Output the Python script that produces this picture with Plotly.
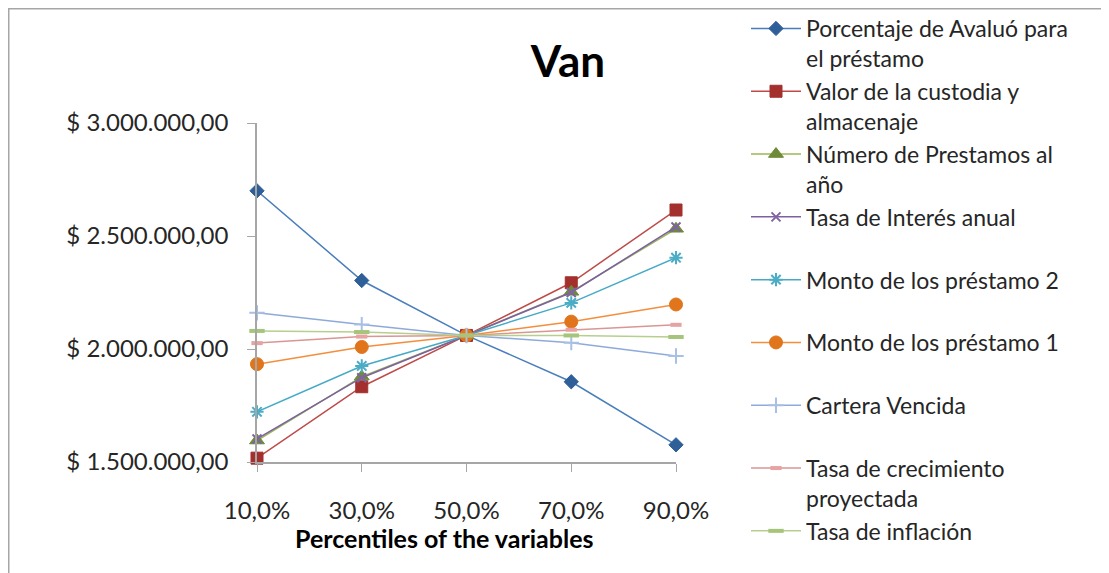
import plotly.graph_objects as go

categories = ["10,0%", "30,0%", "50,0%", "70,0%", "90,0%"]

series_names = [
    "Porcentaje de Avaluó para<br>el préstamo",
    "Valor de la custodia y<br>almacenaje",
    "Número de Prestamos al<br>año",
    "Tasa de Interés anual<br> ",
    "Monto de los préstamo 2<br> ",
    "Monto de los préstamo 1<br> ",
    "Cartera Vencida<br> ",
    "Tasa de crecimiento<br>proyectada",
    "Tasa de inflación",
]

porcentaje_avaluo = [2700000, 2303000, 2060000, 1855000, 1576000]
valor_custodia = [1517000, 1833000, 2060000, 2293000, 2615000]
numero_prestamos = [1595000, 1878000, 2060000, 2253000, 2532000]
tasa_interes = [1602000, 1873000, 2060000, 2250000, 2540000]
monto_prestamo_2 = [1722000, 1925000, 2060000, 2204000, 2404000]
monto_prestamo_1 = [1933000, 2009000, 2060000, 2121000, 2197000]
cartera_vencida = [2160000, 2108000, 2060000, 2028000, 1969000]
tasa_crecimiento = [2026000, 2055000, 2060000, 2085000, 2107000]
tasa_inflacion = [2080000, 2075000, 2060000, 2060000, 2053000]

values = [porcentaje_avaluo, valor_custodia, numero_prestamos, tasa_interes,
          monto_prestamo_2, monto_prestamo_1, cartera_vencida, tasa_crecimiento,
          tasa_inflacion]

line_colors = ["#4A7EBB", "#BE4B48", "#98B954", "#7D60A0", "#46AAC5",
               "#F38E3C", "#8EAADB", "#D99694", "#B7CF8E"]
marker_colors = ["#2F5F98", "#A3302D", "#6E8B37", "#8064A2", "#4BACC6",
                 "#E0751B", "#A9C0E5", "#E6A3A1", "#A6C57A"]
symbols = ["diamond", "square", "triangle-up", "x-thin", "asterisk",
           "circle", "cross-thin", "line-ew", "line-ew"]
sizes = [11, 12, 13, 9, 11, 13, 11, 8, 11]

# page offset (body margin) compensation: figure pixel = screen pixel - 8
L, T, W, H = 249, 115, 419, 339


def px_x(px):
    return (px - L) / W


def px_y(py):
    return (T + H - py) / H


fig = go.Figure()
for i, (name, vals) in enumerate(zip(series_names, values)):
    sym = symbols[i]
    thin = sym in ("x-thin", "asterisk", "cross-thin", "line-ew")
    marker = dict(symbol=sym, size=sizes[i], color=marker_colors[i])
    if thin:
        marker["line"] = dict(color=marker_colors[i], width=4 if sym == "line-ew" else 2)
    else:
        marker["line"] = dict(color=marker_colors[i], width=1)
    fig.add_trace(go.Scatter(
        x=categories, y=vals, name=name, mode="lines+markers",
        line=dict(color=line_colors[i], width=1.5),
        marker=marker, legendgroup=f"g{i}", cliponaxis=False,
    ))

font_family = "Lato, 'Open Sans', sans-serif"

fig.update_layout(
    width=1109, height=573,
    paper_bgcolor="white", plot_bgcolor="white",
    margin=dict(l=L, r=1109 - L - W, t=T, b=573 - T - H, autoexpand=False),
    font=dict(family=font_family, size=24, color="#262626"),
    title=dict(text="<b>Van</b>", x=560 / 1109, xanchor="center",
               y=1 - 54 / 573, yanchor="middle", xref="container", yref="container",
               font=dict(size=44, color="#000000", family=font_family)),
    showlegend=True,
    legend=dict(x=px_x(738), xanchor="left", y=px_y(-1), yanchor="top",
                font=dict(size=23, color="#262626", family=font_family),
                valign="top", traceorder="grouped", tracegroupgap=0,
                itemwidth=50, bgcolor="rgba(0,0,0,0)", maxheight=700),
    xaxis=dict(type="category", range=[0, 4], showgrid=False,
               showline=True, linecolor="#A6A6A6", linewidth=1.5,
               ticks="outside", ticklen=8, tickcolor="#A6A6A6",
               ticklabelstandoff=18,
               tickfont=dict(size=24, color="#262626"), zeroline=False),
    yaxis=dict(range=[1500000, 3000000], tickvals=[1500000, 2000000, 2500000, 3000000],
               ticktext=["$ 1.500.000,00", "$ 2.000.000,00", "$ 2.500.000,00", "$ 3.000.000,00"],
               showgrid=False, showline=True, linecolor="#A6A6A6", linewidth=1.5,
               ticks="outside", ticklen=8, tickcolor="#A6A6A6",
               ticklabelstandoff=14,
               tickfont=dict(size=24, color="#262626"), zeroline=False),
    annotations=[dict(text="<b>Percentiles of the variables</b>", x=px_x(436),
                      y=px_y(530), xref="paper", yref="paper",
                      xanchor="center", yanchor="middle", showarrow=False,
                      font=dict(size=25, color="#000000", family=font_family))],
    shapes=[
        dict(type="line", xref="paper", yref="paper",
             x0=px_x(0.5), x1=px_x(0.5), y0=px_y(0), y1=px_y(580),
             line=dict(color="#A6A6A6", width=2)),
        dict(type="line", xref="paper", yref="paper",
             x0=px_x(0), x1=px_x(1115), y0=px_y(0.5), y1=px_y(0.5),
             line=dict(color="#A6A6A6", width=2)),
    ],
)

fig.write_html("out.html")
